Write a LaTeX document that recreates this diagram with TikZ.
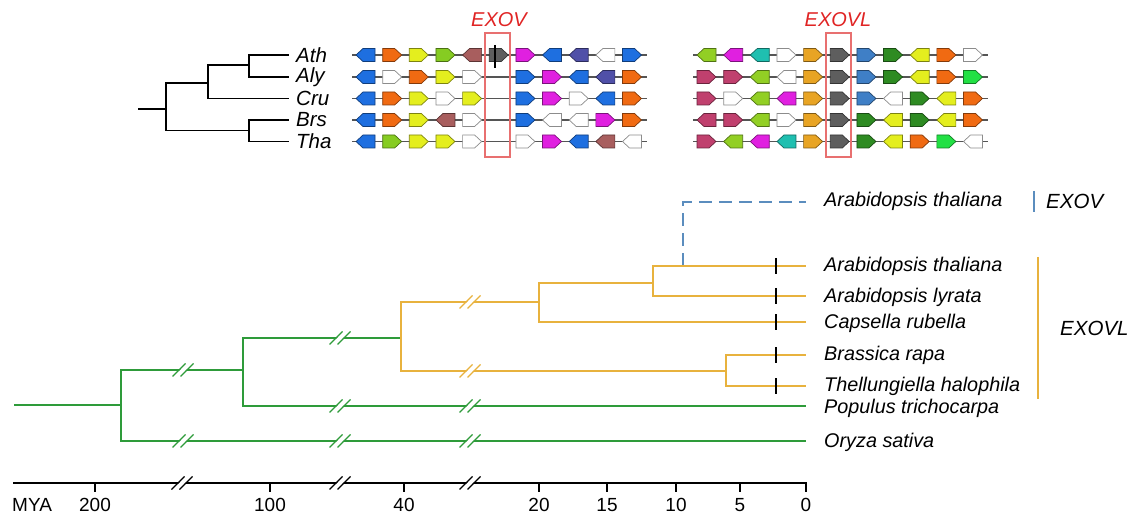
\documentclass[tikz,border=0pt]{standalone}
\usepackage{fontspec}
\setmainfont{Liberation Sans}
\definecolor{tgreen}{HTML}{2E9B3A}
\definecolor{tyel}{HTML}{E8B23E}
\definecolor{tblue}{HTML}{5B8DBE}
\definecolor{exred}{HTML}{E02424}
\definecolor{boxred}{HTML}{E87070}
\definecolor{rowline}{HTML}{555555}
\definecolor{gblue}{HTML}{1E6FE0}
\definecolor{gorange}{HTML}{F06A12}
\definecolor{gyellow}{HTML}{E4EE1E}
\definecolor{glgreen}{HTML}{86CC22}
\definecolor{gbrown}{HTML}{A85E5E}
\definecolor{ggray}{HTML}{5E5E5E}
\definecolor{gmag}{HTML}{E020E0}
\definecolor{gslate}{HTML}{5050A8}
\definecolor{gwhite}{HTML}{FFFFFF}
\definecolor{gygreen}{HTML}{92CF24}
\definecolor{gteal}{HTML}{1FBFB0}
\definecolor{ggold}{HTML}{E8A424}
\definecolor{gsteel}{HTML}{3F7FC6}
\definecolor{gdgreen}{HTML}{2E8B22}
\definecolor{gcrim}{HTML}{C0406E}
\definecolor{gbgreen}{HTML}{22E044}
\newcommand{\generow}[3]{%
  \foreach \s/\d/\c in {#3} {
    \pgfmathsetmacro\cx{#1+26.65*\s}
    \filldraw[gene, fill=\c, draw=\c!55!black]
      ({\cx-9.5*\d},{#2-6.5}) -- ({\cx+2.5*\d},{#2-6.5}) -- ({\cx+9.5*\d},{#2})
      -- ({\cx+2.5*\d},{#2+6.5}) -- ({\cx-9.5*\d},{#2+6.5}) -- cycle;
  }}
\newcommand{\brkmark}[3]{%
  \fill[white] ({#1-9.5},{#2+6.5}) -- ({#1+3.5},{#2-6.5}) -- ({#1+9.5},{#2-6.5}) -- ({#1-3.5},{#2+6.5}) -- cycle;
  \draw[#3, line width=1.2pt] ({#1-10.5},{#2+6.5}) -- ({#1+2.5},{#2-6.5});
  \draw[#3, line width=1.2pt] ({#1-2.5},{#2+6.5}) -- ({#1+10.5},{#2-6.5});}
\tikzset{
  gene/.style={line width=0.7pt, line join=miter},
  clad/.style={line width=1.2pt, black},
  gbr/.style={line width=2.6pt, tgreen},
  ybr/.style={line width=2.6pt, tyel},
  dashbr/.style={line width=2pt, tblue, dash pattern=on 13pt off 7pt},
  sp/.style={font=\fontsize{19.8}{22}\selectfont\itshape, inner sep=0pt, anchor=west},
  rowlab/.style={font=\fontsize{20.5}{23}\selectfont\itshape, inner sep=0pt, anchor=west},
  exlab/.style={font=\fontsize{20}{23}\selectfont\itshape, text=exred, inner sep=0pt},
  axlab/.style={font=\fontsize{19}{22}\selectfont, inner sep=0pt},
  tipmark/.style={line width=2.6pt, black},
  redbox/.style={draw=boxred, line width=1.2pt},
}
\begin{document}
\begin{tikzpicture}[x=1pt,y=-1pt]
\useasboundingbox (0,0) rectangle (1131,526);
% ---------------- top cladogram ----------------
\coordinate (c0) at (138,109);
\coordinate (c1) at (166,109);
\coordinate (c2) at (208,83);
\coordinate (c3) at (249,65);
\coordinate (c4) at (249,130.5);
\coordinate (tA) at (289,55);
\coordinate (tB) at (289,77);
\coordinate (tC) at (289,98.5);
\coordinate (tD) at (289,120);
\coordinate (tE) at (289,141.5);
\draw[clad] (c0) -- (c1);
\draw[clad] (c1) |- (c2);
\draw[clad] (c1) |- (c4);
\draw[clad] (c2) |- (c3);
\draw[clad] (c2) |- (tC);
\draw[clad] (c3) |- (tA);
\draw[clad] (c3) |- (tB);
\draw[clad] (c4) |- (tD);
\draw[clad] (c4) |- (tE);
\node[rowlab] (lAth) at (296,55) {Ath};
\node[rowlab] (lAly) at (296,77) {Aly};
\node[rowlab] (lCru) at (296,98.5) {Cru};
\node[rowlab] (lBrs) at (296,120) {Brs};
\node[rowlab] (lTha) at (296,141.5) {Tha};
% ---------------- gene rows ----------------
\foreach \y in {55,77,98.5,120,141.5} {
  \draw[rowline, line width=1.4pt] (352,\y) -- (647,\y);
  \draw[rowline, line width=1.4pt] (693,\y) -- (988,\y);
}
\generow{365.5}{55}{0/-1/gblue,1/1/gorange,2/1/gyellow,3/1/glgreen,4/-1/gbrown,5/1/ggray,6/1/gmag,7/-1/gblue,8/-1/gslate,9/-1/gwhite,10/1/gblue}
\generow{365.5}{77}{0/-1/gblue,1/1/gwhite,2/1/gorange,3/1/gyellow,4/1/gwhite,6/1/gblue,7/1/gmag,8/-1/gblue,9/-1/gslate,10/1/gorange}
\generow{365.5}{98.5}{0/-1/gblue,1/1/gorange,2/1/gyellow,3/1/gwhite,4/1/gyellow,6/1/gblue,7/1/gmag,8/1/gwhite,9/-1/gblue,10/1/gorange}
\generow{365.5}{120}{0/-1/gblue,1/1/gorange,2/1/gyellow,3/-1/gbrown,4/1/gwhite,6/1/gblue,7/-1/gwhite,8/-1/gwhite,9/1/gmag,10/1/gorange}
\generow{365.5}{141.5}{0/-1/gblue,1/1/glgreen,2/1/gyellow,3/1/gyellow,4/1/gwhite,6/1/gwhite,7/1/gmag,8/-1/gblue,9/-1/gbrown,10/-1/gwhite}
\generow{706.5}{55}{0/-1/gygreen,1/-1/gmag,2/-1/gteal,3/1/gwhite,4/1/ggold,5/1/ggray,6/1/gsteel,7/1/gdgreen,8/-1/gyellow,9/1/gorange,10/1/gwhite}
\generow{706.5}{77}{0/1/gcrim,1/1/gcrim,2/-1/gygreen,3/-1/gwhite,4/1/ggold,5/1/ggray,6/1/gsteel,7/1/gdgreen,8/-1/gyellow,9/1/gorange,10/1/gbgreen}
\generow{706.5}{98.5}{0/1/gcrim,1/1/gwhite,2/-1/gygreen,3/-1/gmag,4/1/ggold,5/1/ggray,6/1/gsteel,7/-1/gwhite,8/1/gdgreen,9/-1/gyellow,10/1/gorange}
\generow{706.5}{120}{0/-1/gcrim,1/1/gcrim,2/-1/gygreen,3/1/gwhite,4/1/ggold,5/1/ggray,6/1/gdgreen,7/-1/gyellow,8/1/gdgreen,9/-1/gyellow,10/1/gorange}
\generow{706.5}{141.5}{0/1/gcrim,1/-1/gygreen,2/-1/gmag,3/-1/gteal,4/1/ggold,5/1/ggray,6/1/gdgreen,7/-1/gyellow,8/1/gorange,9/1/gbgreen,10/-1/gwhite}
\draw[black, line width=2.6pt] (495,45) -- (495,68);
\draw[redbox] (485,33) rectangle (510,157);
\draw[redbox] (826,33) rectangle (851,157);
\node[exlab] (exv) at (499,20) {EXOV};
\node[exlab] (exvl) at (838,20) {EXOVL};
% ---------------- time tree ----------------
\coordinate (r0) at (14,405);
\coordinate (n1) at (121,405);
\coordinate (n2) at (243,370);
\coordinate (n3) at (401,338);
\coordinate (n4) at (539,302);
\coordinate (n5) at (726,371);
\coordinate (n6) at (653,283);
\coordinate (d0) at (683,266);
\coordinate (tAth) at (806,266);
\coordinate (tAly) at (806,296);
\coordinate (tCap) at (806,322);
\coordinate (tBra) at (806,355);
\coordinate (tThe) at (806,386);
\coordinate (tPop) at (806,406);
\coordinate (tOry) at (806,441);
\coordinate (tExo) at (806,202);
\draw[dashbr] (d0) |- (tExo);
\draw[gbr] (r0) -- (n1);
\draw[gbr] (n1) |- (n2);
\draw[gbr] (n1) |- (tOry);
\draw[gbr] (n2) |- (n3);
\draw[gbr] (n2) |- (tPop);
\draw[ybr] (n3) |- (n4);
\draw[ybr] (n3) |- (n5);
\draw[ybr] (n4) |- (n6);
\draw[ybr] (n4) |- (tCap);
\draw[ybr] (n6) |- (tAth);
\draw[ybr] (n6) |- (tAly);
\draw[ybr] (n5) |- (tBra);
\draw[ybr] (n5) |- (tThe);
\foreach \y in {266,296,322,355,386} {
  \draw[tipmark] (776,{\y-8}) -- (776,{\y+8});
}
% break marks
\brkmark{183}{370}{tgreen}
\brkmark{183}{441}{tgreen}
\brkmark{340}{441}{tgreen}
\brkmark{470}{441}{tgreen}
\brkmark{340}{406}{tgreen}
\brkmark{470}{406}{tgreen}
\brkmark{340}{338}{tgreen}
\brkmark{470}{302}{tyel}
\brkmark{470}{371}{tyel}
% species labels
\node[sp] (sExo) at (824,201) {Arabidopsis thaliana};
\node[sp] (sAth) at (824,266) {Arabidopsis thaliana};
\node[sp] (sAly) at (824,297) {Arabidopsis lyrata};
\node[sp] (sCap) at (824,323) {Capsella rubella};
\node[sp] (sBra) at (824,355) {Brassica rapa};
\node[sp] (sThe) at (824,386) {Thellungiella halophila};
\node[sp] (sPop) at (824,408) {Populus trichocarpa};
\node[sp] (sOry) at (824,442) {Oryza sativa};
\draw[tblue, line width=2pt] (1034,191) -- (1034,212);
\draw[tyel, line width=2pt] (1038,257) -- (1038,399);
\node[sp, font=\fontsize{20.5}{23}\selectfont\itshape] (gExov) at (1046,201) {EXOV};
\node[sp, font=\fontsize{20.5}{23}\selectfont\itshape] (gExovl) at (1060,328) {EXOVL};
% ---------------- axis ----------------
\coordinate (a0) at (13,483);
\coordinate (a1) at (807,483);
\draw[black, line width=2.6pt] (a0) -- (a1);
\foreach \x/\t in {95/200,270/100,404/40,539/20,607/15,676/10,740/5,806/0} {
  \draw[black, line width=1.3pt] (\x,483) -- (\x,492);
  \node[axlab] at (\x,505) {\t};
}
\node[axlab, anchor=west] (mya) at (12,505) {MYA};
\brkmark{182}{483}{black}
\brkmark{340}{483}{black}
\brkmark{470}{483}{black}
\end{tikzpicture}
\end{document}
